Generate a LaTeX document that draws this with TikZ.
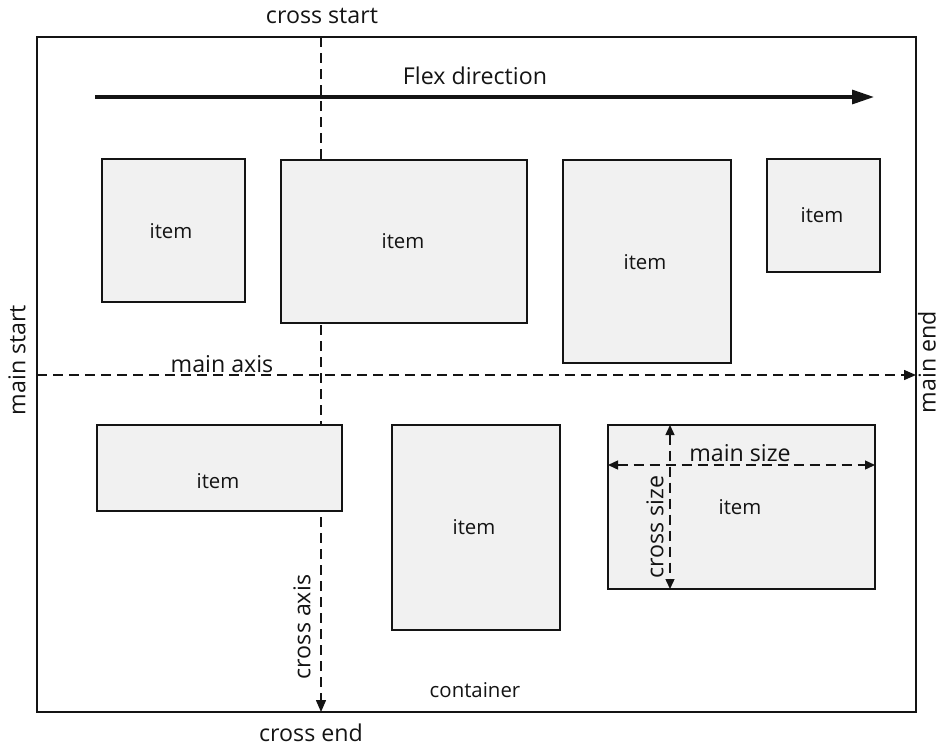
\documentclass[tikz,border=0pt]{standalone}
\usepackage{fontspec}
\setmainfont{Open Sans}
\usetikzlibrary{positioning, arrows.meta, fit}
\definecolor{ink}{RGB}{20,20,20}
\definecolor{boxfill}{RGB}{241,241,241}

\begin{document}
\begin{tikzpicture}[
    x=0.5pt, y=-0.5pt,
    frame/.style={draw=ink, line width=0.8pt},
    item/.style={draw=ink, fill=boxfill, line width=0.7pt, inner sep=0pt},
    itemtxt/.style={font=\fontsize{10.2}{12}\selectfont, text=ink},
    lbl/.style={font=\fontsize{11.6}{14}\selectfont, text=ink},
    axis/.style={-{Triangle[length=6pt,width=5pt]}, draw=ink, line width=0.7pt,
                 dash pattern=on 5pt off 3pt},
    sz/.style={{Triangle[length=5pt,width=4.5pt]}-{Triangle[length=5pt,width=4.5pt]},
               draw=ink, line width=0.7pt, dash pattern=on 5pt off 3pt},
    flow/.style={-{Triangle[length=11pt,width=7pt]}, draw=ink, line width=1.6pt}
  ]
  \useasboundingbox (0,0) rectangle (939,746);

  % container
  \node[frame, inner sep=0pt, fit={(37,37) (916,712)}] (box) {};
  \node[itemtxt] (cont) at (475,690) {container};

  % flex direction
  \coordinate (fa) at (95,97);
  \coordinate (fb) at (874,97);
  \draw[flow] (fa) -- (fb);
  \node[lbl] (flex) at (475,76) {Flex direction};

  % axes
  \coordinate (cs) at (321,37);
  \coordinate (ce) at (321,712);
  \coordinate (ms) at (37,375);
  \coordinate (me) at (916,375);
  \draw[axis] (cs) -- (ce);
  \draw[axis] (ms) -- (me);
  \node[lbl] (mainaxis) at (222,364) {main axis};
  \node[lbl, rotate=90] (crossaxis) at (302,627) {cross axis};

  \node[lbl] (crossstart) at (322,16) {cross start};
  \node[lbl] (crossend) at (311,733) {cross end};
  \node[lbl, rotate=90] (mainstart) at (17,360) {main start};
  \node[lbl, rotate=90] (mainend) at (927,362) {main end};

  % items
  \node[item, fit={(102,159) (245,302)}] (i1) {};
  \node[item, fit={(281,160) (527,323)}] (i2) {};
  \node[item, fit={(563,160) (731,363)}] (i3) {};
  \node[item, fit={(767,159) (880,272)}] (i4) {};
  \node[item, fit={(97,425) (342,511)}] (i5) {};
  \node[item, fit={(392,425) (560,630)}] (i6) {};
  \node[item, fit={(608,425) (875,589)}] (i7) {};
  \node[itemtxt] (t1) at (171,231) {item};
  \node[itemtxt] (t2) at (403,241) {item};
  \node[itemtxt] (t3) at (645,262) {item};
  \node[itemtxt] (t4) at (822,215) {item};
  \node[itemtxt] (t5) at (218,481) {item};
  \node[itemtxt] (t6) at (474,527) {item};
  \node[itemtxt] (t7) at (740,507) {item};

  % main size / cross size
  \coordinate (ma) at (608,465);
  \coordinate (mb) at (875,465);
  \coordinate (ca) at (670,425);
  \coordinate (cb) at (670,589);
  \draw[sz] (ma) -- (mb);
  \draw[sz] (ca) -- (cb);
  \node[lbl] (mainsize) at (740,453) {main size};
  \node[lbl, rotate=90] (crosssize) at (655,527) {cross size};
\end{tikzpicture}
\end{document}
